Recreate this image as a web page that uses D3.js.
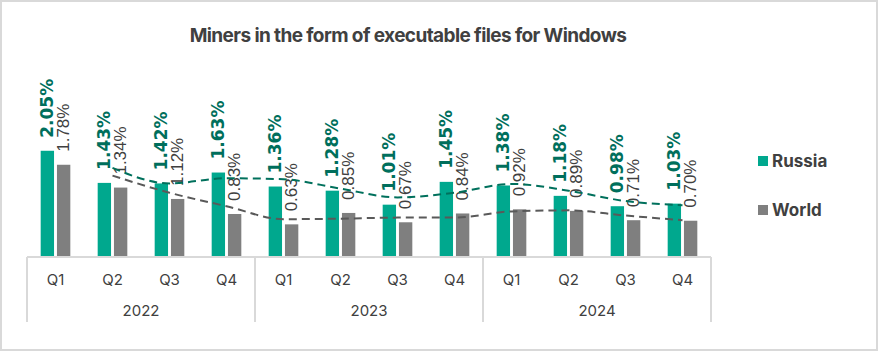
<!DOCTYPE html>
<html>
<head>
<meta charset="utf-8">
<script src="https://cdn.jsdelivr.net/npm/d3@7"></script>
<style>
  body { margin: 0; background: #fff; }
  svg { display: block; }
</style>
</head>
<body>
<div id="chart"></div>
<script>
// data
const years = ["2022", "2023", "2024"];
const quarters = ["Q1", "Q2", "Q3", "Q4"];
const seriesNames = ["Russia", "World"];
const russia = [2.05, 1.43, 1.42, 1.63, 1.36, 1.28, 1.01, 1.45, 1.38, 1.18, 0.98, 1.03];
const world = [1.78, 1.34, 1.12, 0.83, 0.63, 0.85, 0.67, 0.84, 0.92, 0.89, 0.71, 0.70];
// dashed trend lines (first quarter has none)
const russiaTrend = [null, 1.72, 1.42, 1.52, 1.50, 1.32, 1.15, 1.24, 1.41, 1.28, 1.08, 1.00];
const worldTrend = [null, 1.57, 1.24, 0.98, 0.73, 0.74, 0.76, 0.76, 0.88, 0.90, 0.80, 0.71];

//size
const width = 879;
const height = 352;
const margin = { left: 27, right: 168, top: 143, bottom: 95 };
const plotRight = width - margin.right;
const baseY = height - margin.bottom;

const colors = { Russia: "#00a88e", World: "#7f7f7f" };
const labelColors = { Russia: "#006f5c", World: "#404040" };
const trendColors = { Russia: "#00705c", World: "#595959" };

const keys = [];
years.forEach((y) => quarters.forEach((q) => keys.push(y + "-" + q)));

const data = keys.map((k, i) => ({
  key: k,
  year: k.split("-")[0],
  quarter: k.split("-")[1],
  Russia: russia[i],
  World: world[i],
}));

//scales
const x = d3.scaleBand().domain(keys).range([margin.left, plotRight]);
const xSub = d3
  .scaleBand()
  .domain(seriesNames)
  .range([0, x.bandwidth()])
  .paddingInner(0.18)
  .paddingOuter(0.84);
const y = d3.scaleLinear().domain([0, 2.2]).range([baseY, margin.top]);

const svg = d3
  .select("#chart")
  .append("svg")
  .attr("width", width)
  .attr("height", height);

// frame
svg
  .append("rect")
  .attr("x", 1)
  .attr("y", 1)
  .attr("width", width - 3)
  .attr("height", height - 3)
  .attr("fill", "#fff")
  .attr("stroke", "#d9d9d9")
  .attr("stroke-width", 2);

// title
svg
  .append("text")
  .attr("x", 408)
  .attr("y", 42)
  .attr("text-anchor", "middle")
  .attr("font-family", "Inter, 'DejaVu Sans', sans-serif")
  .attr("font-weight", 700)
  .attr("font-size", 19)
  .attr("letter-spacing", -0.6)
  .attr("fill", "#404040")
  .text("Miners in the form of executable files for Windows");

// bars
const groups = svg
  .append("g")
  .selectAll("g")
  .data(data)
  .join("g")
  .attr("transform", (d) => `translate(${x(d.key)},0)`);

groups
  .selectAll("rect")
  .data((d) => seriesNames.map((s) => ({ s, v: d[s] })))
  .join("rect")
  .attr("x", (d) => xSub(d.s))
  .attr("y", (d) => y(d.v))
  .attr("width", xSub.bandwidth())
  .attr("height", (d) => baseY - y(d.v))
  .attr("fill", (d) => colors[d.s]);

// trend lines
const line = d3
  .line()
  .defined((d) => d.v != null)
  .x((d) => x(d.key) + x.bandwidth() / 2)
  .y((d) => y(d.v))
  .curve(d3.curveMonotoneX);

[["Russia", russiaTrend], ["World", worldTrend]].forEach(([s, arr]) => {
  svg
    .append("path")
    .datum(keys.map((k, i) => ({ key: k, v: arr[i] })).filter((d) => d.v != null))
    .attr("d", line)
    .attr("fill", "none")
    .attr("stroke", trendColors[s])
    .attr("stroke-width", 2)
    .attr("stroke-dasharray", "8,5");
});

// value labels
groups
  .selectAll("text")
  .data((d) => seriesNames.map((s) => ({ s, v: d[s] })))
  .join("text")
  .attr("transform", (d) => {
    const cx = xSub(d.s) + xSub.bandwidth() / 2;
    const ty = y(d.v) - 13;
    return `translate(${cx},${ty}) rotate(-90)`;
  })
  .attr("dominant-baseline", "central")
  .attr("text-anchor", "start")
  .attr("font-family", (d) => (d.s == "Russia" ? "'DejaVu Sans', sans-serif" : "'Liberation Sans', Arial, sans-serif"))
  .attr("font-weight", (d) => (d.s == "Russia" ? 700 : 400))
  .attr("font-size", (d) => (d.s == "Russia" ? 17 : 17))
  .attr("fill", (d) => labelColors[d.s])
  .text((d) => d.v.toFixed(2) + "%");

// x axis: baseline + quarter labels + year groups
const axis = svg.append("g");
axis
  .append("line")
  .attr("x1", margin.left)
  .attr("x2", plotRight)
  .attr("y1", baseY)
  .attr("y2", baseY)
  .attr("stroke", "#d9d9d9")
  .attr("stroke-width", 2);

axis
  .selectAll(".q")
  .data(data)
  .join("text")
  .attr("class", "q")
  .attr("x", (d) => x(d.key) + x.bandwidth() / 2)
  .attr("y", baseY + 22)
  .attr("dominant-baseline", "central")
  .attr("text-anchor", "middle")
  .attr("font-family", "Inter, 'DejaVu Sans', sans-serif")
  .attr("font-size", 15)
  .attr("fill", "#404040")
  .text((d) => d.quarter);

const yearBounds = years.map((yr) => ({
  year: yr,
  x0: x(yr + "-Q1"),
  x1: x(yr + "-Q4") + x.bandwidth(),
}));

axis
  .selectAll(".sep")
  .data([yearBounds[0].x0].concat(yearBounds.map((d) => d.x1)))
  .join("line")
  .attr("class", "sep")
  .attr("x1", (d) => d)
  .attr("x2", (d) => d)
  .attr("y1", baseY)
  .attr("y2", baseY + 65)
  .attr("stroke", "#d9d9d9")
  .attr("stroke-width", 2);

axis
  .selectAll(".yr")
  .data(yearBounds)
  .join("text")
  .attr("class", "yr")
  .attr("x", (d) => (d.x0 + d.x1) / 2)
  .attr("y", baseY + 53)
  .attr("dominant-baseline", "central")
  .attr("text-anchor", "middle")
  .attr("font-family", "Inter, 'DejaVu Sans', sans-serif")
  .attr("font-size", 15)
  .attr("fill", "#404040")
  .text((d) => d.year);

// legend
const legend = svg
  .append("g")
  .selectAll("g")
  .data(seriesNames)
  .join("g")
  .attr("transform", (d, i) => `translate(758,${161 + i * 49})`);

legend
  .append("rect")
  .attr("x", 0)
  .attr("y", -5)
  .attr("width", 10)
  .attr("height", 10)
  .attr("fill", (d) => colors[d]);

legend
  .append("text")
  .attr("x", 14)
  .attr("y", 0)
  .attr("dominant-baseline", "central")
  .attr("font-family", "Inter, 'DejaVu Sans', sans-serif")
  .attr("font-weight", 700)
  .attr("font-size", 17)
  .attr("fill", "#404040")
  .text((d) => d);
</script>
</body>
</html>
